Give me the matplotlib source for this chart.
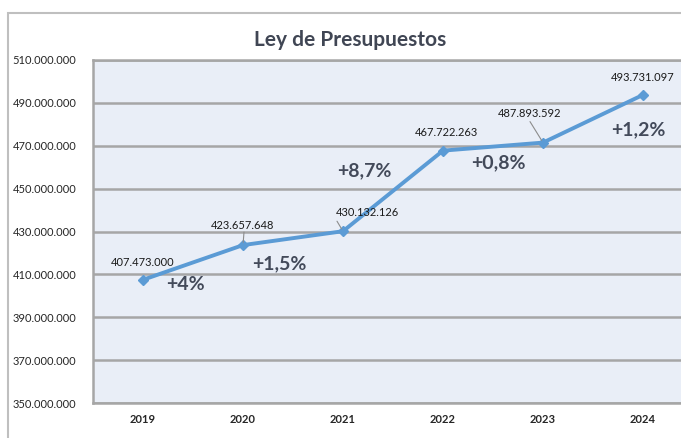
import matplotlib
matplotlib.use("Agg")
import matplotlib.pyplot as plt
from matplotlib.patches import Rectangle

years = ["2019", "2020", "2021", "2022", "2023", "2024"]
values = [407473000, 423657648, 430132126, 467722263, 471470000, 493731097]
value_labels = ["407.473.000", "423.657.648", "430.132.126", "467.722.263", "487.893.592", "493.731.097"]
pct_labels = ["+4%", "+1,5%", "+8,7%", "+0,8%", "+1,2%"]
yticks = [350e6, 370e6, 390e6, 410e6, 430e6, 450e6, 470e6, 490e6, 510e6]
ytick_labels = ["350.000.000", "370.000.000", "390.000.000", "410.000.000", "430.000.000",
                "450.000.000", "470.000.000", "490.000.000", "510.000.000"]

plt.rcParams['font.family'] = ['Lato', 'DejaVu Sans']

W, H = 681, 438
fig = plt.figure(figsize=(W / 100, H / 100), dpi=100)

# outer chart border
fig.patches.append(Rectangle((8 / W, -0.05), 1.1, 1 - 13 / H + 0.05, transform=fig.transFigure,
                             fill=False, edgecolor="#BFBFBF", linewidth=1.5))

ax = fig.add_axes([93 / W, 1 - 403 / H, 600 / W, (403 - 60) / H])
ax.set_facecolor("#E9EEF7")
x = list(range(len(years)))
ax.set_xlim(-0.5, len(years) - 0.5)
ax.set_ylim(350e6, 510e6)
ax.set_yticks(yticks)
ax.set_yticklabels(ytick_labels)
ax.set_xticks(x)
ax.set_xticklabels(years, fontweight="bold")
ax.tick_params(axis="both", length=0, labelsize=8, colors="#262626")
ax.tick_params(axis="y", pad=12)
ax.tick_params(axis="x", pad=8)
ax.grid(axis="y", color="#A6A6A6", linewidth=1.8)
ax.set_axisbelow(True)
for s in ax.spines.values():
    s.set_color("#A6A6A6")
    s.set_linewidth(1.8)
ax.spines["right"].set_visible(False)

ax.plot(x, values, color="#5B9BD5", linewidth=2.8, marker="D", markersize=5, zorder=3)

# value labels (offsets in pixels)
val_off = [(0, 17), (0, 20), (24, 19), (3, 18), (-13, 29), (0, 17)]
for i, (lab, off) in enumerate(zip(value_labels, val_off)):
    ax.annotate(lab, (x[i], values[i]), xytext=off, textcoords="offset pixels",
                ha="center", va="center", fontsize=8, color="#1a1a1a")

# leader lines
leaders = [(1, (1, 13)), (2, (-6, 10)), (4, (-13, 21))]
for i, off in leaders:
    ax.annotate("", (x[i], values[i]), xytext=off, textcoords="offset pixels",
                arrowprops=dict(arrowstyle="-", color="#8C8C8C", lw=0.8, shrinkA=0, shrinkB=2))

# percentage labels
pct_pos = [(0, (42, -5)), (1, (36, -19)), (2, (21, 60)), (3, (55, -12)), (5, (-5, -35))]
for lab, (i, off) in zip(pct_labels, pct_pos):
    ax.annotate(lab, (x[i], values[i]), xytext=off, textcoords="offset pixels",
                ha="center", va="center", fontsize=14, fontweight="bold", color="#434a5a")

fig.text(350 / W, 1 - 40 / H, "Ley de Presupuestos", ha="center", va="center",
         fontsize=15, fontweight="bold", color="#404654")

fig.savefig("out.png", dpi=100)
